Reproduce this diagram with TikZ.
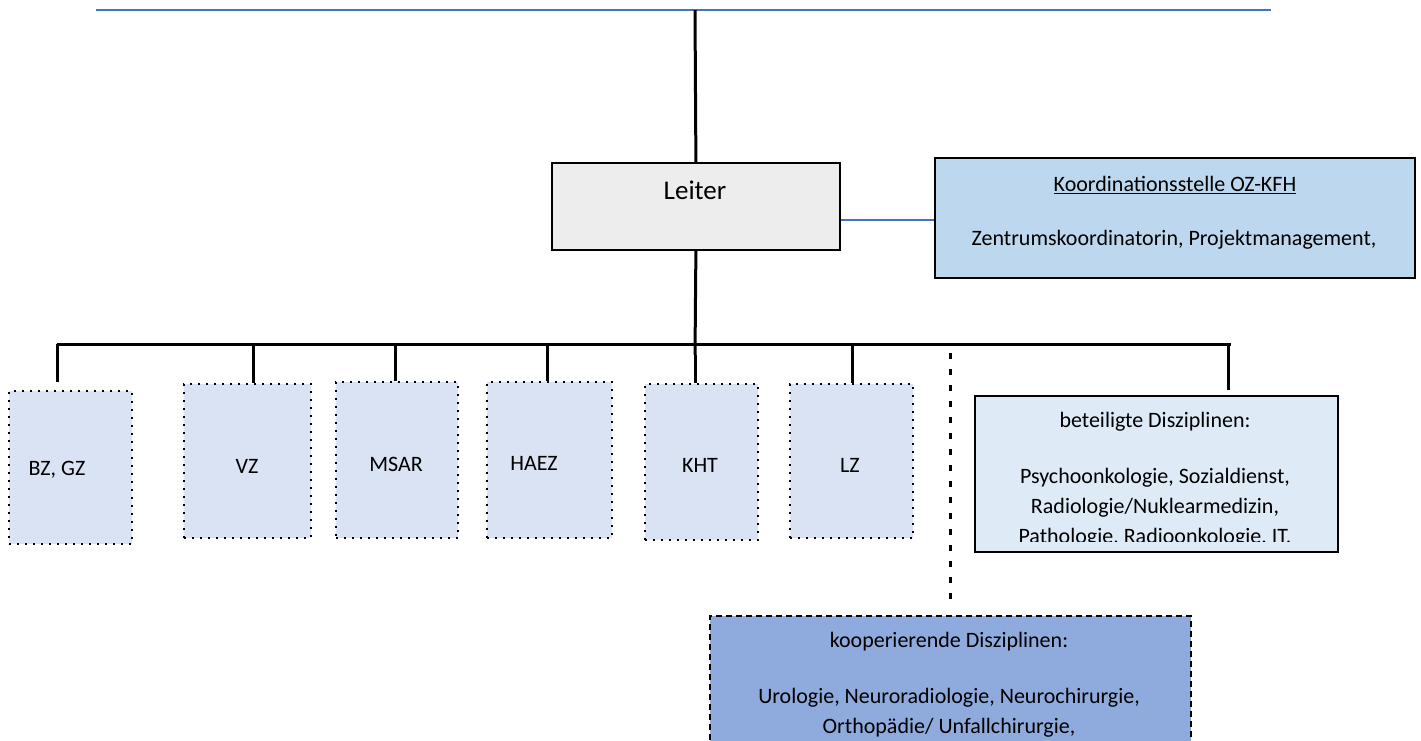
\documentclass[tikz,border=0pt]{standalone}
\usepackage{fontspec}
\setmainfont{Carlito}
\definecolor{leitfill}{HTML}{EDEDED}
\definecolor{koordfill}{HTML}{BDD7EE}
\definecolor{smallfill}{HTML}{DAE3F3}
\definecolor{betfill}{HTML}{DEEBF7}
\definecolor{koopfill}{HTML}{8FAADC}
\definecolor{lineblue}{HTML}{4472C4}
\begin{document}
\begin{tikzpicture}[x=1pt,y=-1pt,
  box/.style={draw=black, line width=1.8pt, inner sep=0pt, anchor=north west},
  dotbox/.style={draw=black, line width=2pt, dash pattern=on 2pt off 6pt, fill=smallfill, inner sep=0pt, anchor=north west},
  conn/.style={line width=3pt, black},
  blueline/.style={line width=2.4pt, lineblue},
  dashline/.style={line width=3pt, black, dash pattern=on 6pt off 10pt},
  txt/.style={font=\fontsize{22}{30}\selectfont, inner sep=0pt, align=center, text=black},
  bigtxt/.style={font=\fontsize{27}{30}\selectfont, inner sep=0pt, text=black}]
\useasboundingbox (0,0) rectangle (1421,740);
\clip (0,0) rectangle (1421,740);
\fill[white] (0,0) rectangle (1421,740);

% top line
\coordinate (tl) at (96,10);
\coordinate (tr) at (1271,10);
\coordinate (topc) at (695,10);
\draw[blueline] (tl) -- (tr);

% Leiter
\node[box, fill=leitfill, minimum width=288pt, minimum height=87pt] (leiter) at (551,162) {};
\node[bigtxt] (leitertxt) at (695,190) {Leiter};
\draw[conn] (topc) -- (leiter.north);

% Koordinationsstelle
\node[box, fill=koordfill, minimum width=480pt, minimum height=120pt] (koord) at (934,157) {};
\node[txt] (koordtitle) at (1175,185) {\underline{Koordinationsstelle OZ-KFH}};
\node[txt] (koordtxt) at (1174,240) {Zentrumskoordinatorin, Projektmanagement,};
\draw[blueline] (leiter.east |- 0,220) -- (koord.west |- 0,220);

% bus
\coordinate (busl) at (57,344);
\coordinate (busr) at (1231,344);
\coordinate (busc) at (695,355);
\draw[conn] (leiter.south) -- (busc);
\draw[conn] (busl) -- (busr);

% small boxes
\node[dotbox, minimum width=123pt, minimum height=153pt] (bz) at (8,390) {};
\node[dotbox, minimum width=127pt, minimum height=154pt] (vz) at (183,383) {};
\node[dotbox, minimum width=122pt, minimum height=156pt] (msar) at (335,381) {};
\node[dotbox, minimum width=125pt, minimum height=156pt] (haez) at (486,381) {};
\node[dotbox, minimum width=113pt, minimum height=156pt] (kht) at (644,383) {};
\node[dotbox, minimum width=123pt, minimum height=154pt] (lz) at (789,383) {};

\node[txt] (bztxt) at (57,470) {BZ, GZ};
\node[txt] (vztxt) at (247,466) {VZ};
\node[txt] (msartxt) at (396,464) {MSAR};
\node[txt] (haeztxt) at (534,463) {HAEZ};
\node[txt] (khttxt) at (700,465) {KHT};
\node[txt] (lztxt) at (850,465) {LZ};

% drops
\coordinate (d1) at (57,382);
\coordinate (d2) at (253,383);
\coordinate (d3) at (395,381);
\coordinate (d4) at (547,381);
\coordinate (d6) at (852,383);
\coordinate (d7) at (1228,390);
\draw[conn] (busl) -- (d1);
\draw[conn] (d2 |- busl) -- (d2);
\draw[conn] (d3 |- busl) -- (d3);
\draw[conn] (d4 |- busl) -- (d4);
\draw[conn] (busc) -- (kht.north -| busc);
\draw[conn] (d6 |- busl) -- (d6);
\draw[conn] (d7 |- busl) -- (d7);

% beteiligte Disziplinen
\node[box, fill=betfill, minimum width=363pt, minimum height=156pt] (bet) at (974,395) {};
\node[txt] (bettitle) at (1155,422) {beteiligte Disziplinen:};
\begin{scope}
  \clip (976,397) rectangle (1335,541);
  \node[txt] (bettxt) at (1155,508) {Psychoonkologie, Sozialdienst,\\Radiologie/Nuklearmedizin,\\Pathologie, Radioonkologie, IT,};
\end{scope}

% dashed connector to kooperierende
\coordinate (dash1) at (950,353);
\coordinate (dash2) at (950,600);
\draw[dashline] (dash1) -- (dash2);

% kooperierende Disziplinen
\node[draw=black, line width=2pt, dash pattern=on 6pt off 4pt, fill=koopfill, inner sep=0pt, anchor=north west, minimum width=481pt, minimum height=140pt] (koop) at (709,615) {};
\node[txt] (kooptitle) at (949,642) {kooperierende Disziplinen:};
\node[txt] (kooptxt) at (949,713) {Urologie, Neuroradiologie, Neurochirurgie,\\Orthopädie/ Unfallchirurgie,};
\end{tikzpicture}
\end{document}
